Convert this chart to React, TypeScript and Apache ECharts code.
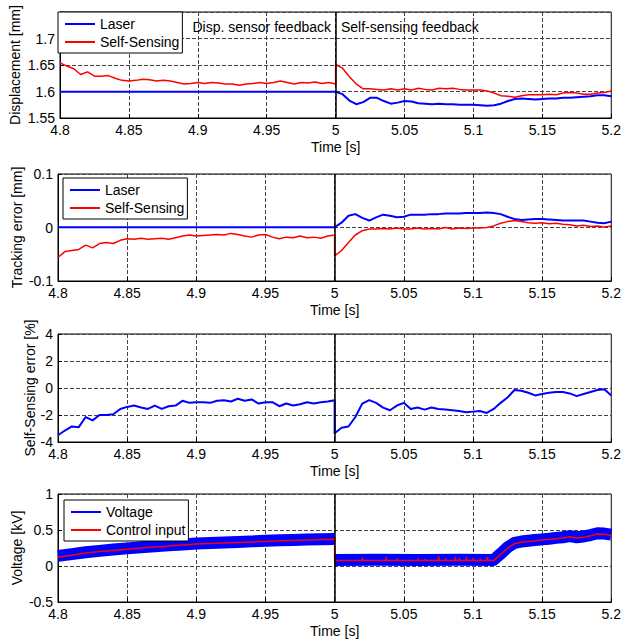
import React, { useEffect, useRef } from "react";
import * as echarts from "echarts";

// Time bases (s)
const tL = [4.8, 4.805, 4.81, 4.815, 4.82, 4.825, 4.83, 4.835, 4.84, 4.845, 4.85, 4.855, 4.86, 4.865, 4.87, 4.875, 4.88, 4.885, 4.89, 4.895, 4.9, 4.905, 4.91, 4.915, 4.92, 4.925, 4.93, 4.935, 4.94, 4.945, 4.95, 4.955, 4.96, 4.965, 4.97, 4.975, 4.98, 4.985, 4.99, 4.995, 5.0];
const tR = [5.0, 5.005, 5.01, 5.015, 5.02, 5.025, 5.03, 5.035, 5.04, 5.045, 5.05, 5.055, 5.06, 5.065, 5.07, 5.075, 5.08, 5.085, 5.09, 5.095, 5.1, 5.105, 5.11, 5.115, 5.12, 5.125, 5.13, 5.135, 5.14, 5.145, 5.15, 5.155, 5.16, 5.165, 5.17, 5.175, 5.18, 5.185, 5.19, 5.195, 5.2];

// Panel 1: Displacement [mm]
const laserDispL = [1.5995, 1.5996, 1.5994, 1.5995, 1.5996, 1.5995, 1.5994, 1.5996, 1.5995, 1.5995, 1.5996, 1.5994, 1.5995, 1.5996, 1.5995, 1.5994, 1.5995, 1.5996, 1.5995, 1.5994, 1.5995, 1.5996, 1.5995, 1.5995, 1.5994, 1.5996, 1.5995, 1.5995, 1.5994, 1.5996, 1.5995, 1.5995, 1.5996, 1.5994, 1.5995, 1.5995, 1.5996, 1.5994, 1.5995, 1.5996, 1.5995];
const sensDispL = [1.654, 1.648, 1.643, 1.632, 1.637, 1.629, 1.629, 1.63, 1.625, 1.621, 1.62, 1.621, 1.623, 1.622, 1.62, 1.621, 1.62, 1.617, 1.614, 1.615, 1.617, 1.615, 1.617, 1.616, 1.614, 1.614, 1.612, 1.614, 1.615, 1.617, 1.615, 1.617, 1.62, 1.617, 1.614, 1.617, 1.616, 1.618, 1.615, 1.617, 1.614];
const laserDispR = [1.6, 1.595, 1.583, 1.576, 1.58, 1.588, 1.588, 1.582, 1.577, 1.579, 1.582, 1.581, 1.578, 1.577, 1.576, 1.577, 1.576, 1.576, 1.575, 1.575, 1.575, 1.574, 1.573, 1.574, 1.577, 1.582, 1.586, 1.587, 1.586, 1.585, 1.586, 1.587, 1.587, 1.588, 1.588, 1.589, 1.59, 1.591, 1.593, 1.593, 1.591];
const sensDispR = [1.651, 1.644, 1.628, 1.614, 1.605, 1.605, 1.604, 1.603, 1.605, 1.603, 1.605, 1.603, 1.606, 1.604, 1.603, 1.606, 1.605, 1.606, 1.604, 1.603, 1.603, 1.603, 1.601, 1.597, 1.592, 1.591, 1.589, 1.592, 1.594, 1.594, 1.594, 1.595, 1.594, 1.597, 1.598, 1.597, 1.595, 1.595, 1.597, 1.598, 1.601];

// Panel 2: Tracking error [mm]
const laserErrL = [0.0005, 0.0006, 0.0004, 0.0005, 0.0006, 0.0005, 0.0004, 0.0006, 0.0005, 0.0005, 0.0006, 0.0004, 0.0005, 0.0006, 0.0005, 0.0004, 0.0005, 0.0006, 0.0005, 0.0004, 0.0005, 0.0006, 0.0005, 0.0005, 0.0004, 0.0006, 0.0005, 0.0005, 0.0004, 0.0006, 0.0005, 0.0005, 0.0006, 0.0004, 0.0005, 0.0005, 0.0006, 0.0004, 0.0005, 0.0006, 0.0005];
const sensErrL = [-0.056, -0.045, -0.043, -0.041, -0.033, -0.038, -0.03, -0.028, -0.03, -0.024, -0.021, -0.022, -0.02, -0.022, -0.021, -0.02, -0.022, -0.019, -0.016, -0.014, -0.016, -0.015, -0.014, -0.013, -0.014, -0.011, -0.013, -0.016, -0.018, -0.014, -0.013, -0.018, -0.021, -0.018, -0.019, -0.016, -0.019, -0.018, -0.02, -0.016, -0.014];
const laserErrR = [0, 0.009, 0.022, 0.025, 0.018, 0.013, 0.019, 0.024, 0.022, 0.019, 0.02, 0.024, 0.024, 0.024, 0.025, 0.025, 0.026, 0.026, 0.026, 0.027, 0.027, 0.027, 0.028, 0.027, 0.025, 0.02, 0.016, 0.014, 0.015, 0.016, 0.016, 0.015, 0.014, 0.013, 0.013, 0.013, 0.013, 0.011, 0.009, 0.008, 0.011];
const sensErrR = [-0.053, -0.043, -0.028, -0.014, -0.006, -0.003, -0.003, -0.002, -0.003, -0.001, -0.003, -0.003, -0.001, -0.003, -0.002, -0.003, 0, -0.003, -0.001, -0.002, -0.001, -0.001, 0, 0.003, 0.008, 0.011, 0.013, 0.011, 0.009, 0.008, 0.009, 0.007, 0.008, 0.006, 0.005, 0.003, 0.004, 0.002, 0.003, 0.001, 0.003];

// Panel 3: Self-Sensing error [%]
const selfErrL = [-3.5, -3.15, -2.85, -2.9, -2.15, -2.4, -2.0, -2.0, -1.95, -1.55, -1.4, -1.3, -1.45, -1.55, -1.3, -1.55, -1.35, -1.3, -0.95, -1.1, -1.05, -1.05, -1.1, -0.95, -0.9, -1.0, -0.8, -0.95, -0.85, -1.15, -1.05, -1.05, -1.35, -1.15, -1.3, -1.2, -1.05, -1.15, -1.05, -1.0, -0.9];
const selfErrR = [-3.35, -2.95, -2.85, -2.15, -1.15, -0.9, -1.1, -1.45, -1.65, -1.3, -1.1, -1.55, -1.45, -1.6, -1.45, -1.55, -1.6, -1.65, -1.7, -1.8, -1.75, -1.7, -1.85, -1.55, -1.1, -0.7, -0.15, -0.2, -0.35, -0.55, -0.45, -0.35, -0.3, -0.3, -0.4, -0.6, -0.45, -0.3, -0.15, -0.1, -0.55];

// Panel 4: Voltage [kV]  ([time, value])
const voltL = [[4.8, 0.14], [4.81, 0.165], [4.82, 0.19], [4.83, 0.21], [4.84, 0.228], [4.85, 0.245], [4.86, 0.26], [4.87, 0.275], [4.88, 0.288], [4.89, 0.3], [4.9, 0.312], [4.91, 0.32], [4.92, 0.328], [4.93, 0.335], [4.94, 0.342], [4.95, 0.35], [4.96, 0.356], [4.97, 0.362], [4.98, 0.367], [4.99, 0.372], [5.0, 0.376]];
const voltR = [[5.0, 0.085], [5.03, 0.087], [5.06, 0.085], [5.09, 0.088], [5.115, 0.085], [5.12, 0.17], [5.125, 0.26], [5.13, 0.32], [5.135, 0.34], [5.14, 0.35], [5.145, 0.36], [5.15, 0.37], [5.155, 0.378], [5.16, 0.39], [5.165, 0.4], [5.17, 0.415], [5.175, 0.4], [5.18, 0.41], [5.185, 0.43], [5.19, 0.455], [5.195, 0.45], [5.2, 0.435]];
const ctrlL = [[4.8, 0.12], [4.81, 0.15], [4.82, 0.18], [4.83, 0.2], [4.84, 0.215], [4.85, 0.233], [4.86, 0.25], [4.87, 0.265], [4.88, 0.278], [4.89, 0.29], [4.9, 0.305], [4.91, 0.312], [4.92, 0.32], [4.93, 0.328], [4.94, 0.335], [4.95, 0.342], [4.96, 0.35], [4.97, 0.355], [4.98, 0.36], [4.99, 0.368], [5.0, 0.372]];
const ctrlR = [[5.0, 0.075], [5.02, 0.075], [5.0202, 0.11], [5.0205, 0.075], [5.037, 0.075], [5.0372, 0.12], [5.0376, 0.075], [5.045, 0.075], [5.0452, 0.1], [5.0455, 0.075], [5.06, 0.075], [5.0602, 0.1], [5.0605, 0.075], [5.065, 0.075], [5.0652, 0.095], [5.0655, 0.075], [5.075, 0.075], [5.0752, 0.13], [5.0757, 0.075], [5.08, 0.075], [5.0802, 0.1], [5.0805, 0.075], [5.087, 0.075], [5.0872, 0.12], [5.0876, 0.075], [5.09, 0.075], [5.0902, 0.105], [5.0905, 0.075], [5.095, 0.075], [5.0952, 0.12], [5.0955, 0.075], [5.1, 0.075], [5.1002, 0.11], [5.1005, 0.075], [5.105, 0.075], [5.1052, 0.1], [5.1055, 0.075], [5.11, 0.075], [5.1102, 0.12], [5.1106, 0.075], [5.115, 0.075], [5.12, 0.16], [5.125, 0.25], [5.13, 0.31], [5.135, 0.33], [5.14, 0.34], [5.145, 0.35], [5.15, 0.36], [5.155, 0.368], [5.16, 0.38], [5.165, 0.39], [5.17, 0.405], [5.175, 0.39], [5.18, 0.4], [5.185, 0.42], [5.19, 0.445], [5.195, 0.44], [5.2, 0.425]];

const yNames = ["Displacement [mm]", "Tracking error [mm]", "Self-Sensing error [%]", "Voltage [kV]"];
const yRanges = [
  { min: 1.55, max: 1.75, interval: 0.05 },
  { min: -0.1, max: 0.1, interval: 0.1 },
  { min: -4, max: 4, interval: 2 },
  { min: -0.5, max: 1, interval: 0.5 },
];

const FONT = "'Liberation Sans', Arial, Helvetica, sans-serif";
const BLUE = "#0000ff";
const RED = "#ff0000";

const zip = (t: number[], v: number[]) => t.map((x, i) => [x, v[i]]);
const fmt = (v: number) => String(parseFloat(v.toFixed(4)));

function buildOption() {
  const gridPos = [
    { top: 12, height: 106 },
    { top: 174, height: 107 },
    { top: 334, height: 108 },
    { top: 494, height: 108 },
  ];
  const nameGaps = [38, 34, 21, 34];
  const grid = gridPos.map((g) => ({
    left: 58,
    width: 555,
    top: g.top,
    height: g.height,
    show: true,
    borderColor: "#000",
    borderWidth: 1,
    backgroundColor: "#fff",
  }));
  const dash = { color: "#444", width: 1, type: [4, 2] as any };
  const xAxis = gridPos.map((_, i) => ({
    type: "value",
    gridIndex: i,
    min: 4.8,
    max: 5.2,
    interval: 0.05,
    name: "Time [s]",
    nameLocation: "middle",
    nameGap: 22,
    nameMoveOverlap: false,
    nameTextStyle: { fontSize: 14, color: "#000", fontFamily: FONT },
    axisLine: { show: true, onZero: false, lineStyle: { color: "#000", width: 1 } },
    axisTick: { show: true, inside: true, length: 4, lineStyle: { color: "#000" } },
    axisLabel: { fontSize: 14, color: "#000", fontFamily: FONT, margin: 5, formatter: fmt },
    splitLine: { show: true, lineStyle: dash },
  }));
  const yAxis = gridPos.map((_, i) => ({
    type: "value",
    gridIndex: i,
    min: yRanges[i].min,
    max: yRanges[i].max,
    interval: yRanges[i].interval,
    name: yNames[i],
    nameLocation: "middle",
    nameGap: nameGaps[i],
    nameMoveOverlap: false,
    nameTextStyle: { fontSize: 14, color: "#000", fontFamily: FONT },
    axisLine: { show: true, onZero: false, lineStyle: { color: "#000", width: 1 } },
    axisTick: { show: true, inside: true, length: 4, lineStyle: { color: "#000" } },
    axisLabel: {
      fontSize: 14,
      color: "#000",
      fontFamily: FONT,
      margin: 5,
      formatter: fmt,
      showMaxLabel: i !== 0,
    },
    splitLine: { show: true, lineStyle: dash },
  }));

  const sepLine = {
    silent: true,
    symbol: "none",
    label: { show: false },
    lineStyle: { color: "#000", type: "solid", width: 1.5 },
    data: [{ xAxis: 5 }],
  };

  const line = (name: string, gi: number, data: any[], color: string, width: number, withSep = false) => ({
    type: "line",
    name,
    xAxisIndex: gi,
    yAxisIndex: gi,
    data,
    symbol: "none",
    showSymbol: false,
    lineStyle: { color, width, cap: "butt", join: "round" },
    itemStyle: { color },
    markLine: withSep ? sepLine : undefined,
    z: 3,
  });

  const series = [
    line("Laser", 0, zip(tL, laserDispL).concat(zip(tR, laserDispR)), BLUE, 2, true),
    line("Self-Sensing", 0, zip(tL, sensDispL).concat(zip(tR, sensDispR)), RED, 1.5),
    line("Laser", 1, zip(tL, laserErrL).concat(zip(tR, laserErrR)), BLUE, 2, true),
    line("Self-Sensing", 1, zip(tL, sensErrL).concat(zip(tR, sensErrR)), RED, 1.5),
    line("Self-Sensing error", 2, zip(tL, selfErrL).concat(zip(tR, selfErrR)), BLUE, 2, true),
    line("Voltage", 3, (voltL as any[]).concat([[5.0, null]], voltR), BLUE, 12, true),
    line("Control input", 3, (ctrlL as any[]).concat(ctrlR), RED, 1.5),
  ];

  const legendBase = {
    orient: "vertical",
    borderColor: "#000",
    borderWidth: 1,
    backgroundColor: "#fff",
    padding: [5, 3, 4, 6],
    itemGap: 4,
    itemWidth: 30,
    itemHeight: 14,
    selectedMode: false,
    textStyle: { fontSize: 14, color: "#000", fontFamily: FONT },
    lineStyle: { width: 2 },
    itemStyle: { opacity: 0 },
  };
  const legend = [
    { ...legendBase, left: 58, top: 12, data: ["Laser", "Self-Sensing"] },
    { ...legendBase, left: 63, top: 178, data: ["Laser", "Self-Sensing"] },
    { ...legendBase, left: 64, top: 500, data: ["Voltage", "Control input"] },
  ];

  const textFont = `14px ${FONT}`;
  const graphic = [
    {
      type: "text",
      x: 331,
      y: 27,
      z: 10,
      style: { text: "Disp. sensor feedback", fill: "#000", font: textFont, align: "right", verticalAlign: "middle", textAlign: "right", textVerticalAlign: "middle" },
    },
    {
      type: "text",
      x: 341,
      y: 27,
      z: 10,
      style: { text: "Self-sensing feedback", fill: "#000", font: textFont, align: "left", verticalAlign: "middle", textAlign: "left", textVerticalAlign: "middle" },
    },
  ];

  return {
    animation: false,
    backgroundColor: "#fff",
    textStyle: { fontFamily: FONT },
    grid,
    xAxis,
    yAxis,
    legend,
    series,
    graphic,
  };
}

export default function App() {
  const ref = useRef<HTMLDivElement>(null);
  useEffect(() => {
    const chart = echarts.init(ref.current as HTMLDivElement, null, { renderer: "svg" });
    chart.setOption(buildOption() as any);
    return () => chart.dispose();
  }, []);
  return (
    <div
      ref={ref}
      style={{ position: "fixed", left: 0, top: 0, width: 624, height: 639, background: "#fff" }}
    />
  );
}
